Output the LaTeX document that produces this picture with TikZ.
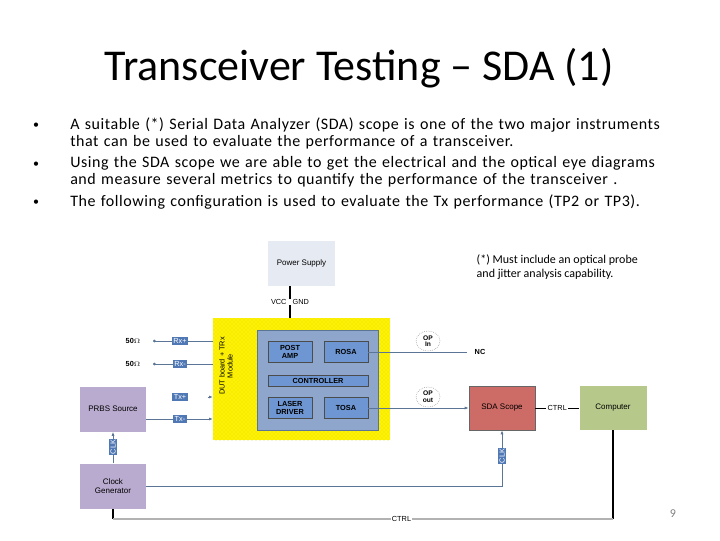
\documentclass[tikz,border=0pt]{standalone}
\usepackage{fontspec}
\setmainfont{Carlito}
\setsansfont{Liberation Sans}
\usetikzlibrary{patterns,arrows.meta,shapes.geometric}
\definecolor{psbox}{HTML}{E6EAF2}
\definecolor{inner}{HTML}{8EA6CC}
\definecolor{blk}{HTML}{6D96D2}
\definecolor{lav}{HTML}{B9ABCF}
\definecolor{scope}{HTML}{CD6B66}
\definecolor{comp}{HTML}{B6C98B}
\definecolor{wire}{HTML}{5A7595}
\definecolor{lbl}{HTML}{4F78B4}
\begin{document}
\begin{tikzpicture}[x=0.75pt,y=-0.75pt,
  box/.style={draw=none,minimum width=66*0.75pt,minimum height=45*0.75pt,font=\sffamily\fontsize{6}{7}\selectfont,align=center},
  blkbox/.style={fill=blk,draw=black!70,minimum width=44*0.75pt,minimum height=21*0.75pt,font=\sffamily\bfseries\fontsize{5.5}{6}\selectfont,align=center,inner sep=0pt},
  tag/.style={fill=lbl,text=white,font=\sffamily\fontsize{5.5}{6}\selectfont,inner sep=1pt},
  wl/.style={draw=wire,line width=0.6pt},
  sm/.style={font=\sffamily\fontsize{5.5}{6}\selectfont},
  bul/.style={anchor=north west,text width=612*0.75pt,align=left,inner sep=0pt,font=\fontsize{12}{12.6}\selectfont\addfontfeature{LetterSpace=3.5}},
  opnode/.style={draw=gray,densely dotted,ellipse,minimum width=24*0.75pt,minimum height=20*0.75pt,fill=white,align=center,inner sep=0pt,font=\sffamily\bfseries\fontsize{5}{5}\selectfont}]
\useasboundingbox (0,0) rectangle (720,540);
\node (title) at (359,68) {\fontsize{33}{36}\selectfont Transceiver Testing – SDA (1)};
\node[bul] (t1) at (70,118) {A suitable (*) Serial Data Analyzer (SDA) scope is one of the two major instruments that can be used to evaluate the performance of a transceiver.};
\node[bul] (t2) at (70,156) {Using the SDA scope we are able to get the electrical and the optical eye diagrams and measure several metrics to quantify the performance of the transceiver .};
\node[bul] (t3) at (70,195) {The following configuration is used to evaluate the Tx performance (TP2 or TP3).};
\foreach \yy/\nm in {126/b1,165/b2,203/b3} \node[font=\fontsize{9}{9}\selectfont] (\nm) at (36,\yy) {•};
\node[anchor=west,align=left,font=\fontsize{9}{11}\selectfont] (note) at (472,267) {(*) Must include an optical probe\\and jitter analysis capability.};
\node[text=gray,font=\fontsize{9}{9}\selectfont] (pg) at (673,514) {9};
% power
\node[box,fill=psbox,minimum width=67*0.75pt] (ps) at (301.5,263.5) {Power Supply};
% DUT
\fill[yellow] (213,318) rectangle (390,440);
\fill[pattern=crosshatch dots,pattern color=yellow!70!gray] (213,318) rectangle (390,440);
\coordinate (dutt) at (290,318);
\draw[black,line width=0.8pt] (ps.south -| dutt) -- (dutt);
\node[sm,fill=white,inner sep=0.5pt] (vcc) at (290,302) {VCC \ \ GND};
\node[rotate=90,sm,align=center] (dutl) at (226,366) {DUT board + TRx\\Module};
\node[fill=inner,draw=wire,minimum width=121*0.75pt,minimum height=100*0.75pt] (in) at (317.5,380) {};
\node[blkbox] (pa) at (290,352) {POST\\AMP};
\node[blkbox] (rosa) at (346,352) {ROSA};
\node[blkbox,minimum width=100*0.75pt,minimum height=11*0.75pt] (ctl) at (318,380.5) {CONTROLLER};
\node[blkbox] (ld) at (290,408) {LASER\\DRIVER};
\node[blkbox] (tosa) at (346,408) {TOSA};
% left signals
\node[sm,font=\sffamily\bfseries\fontsize{5.5}{6}\selectfont] (r1) at (133,341) {50$\Omega$};
\node[sm,font=\sffamily\bfseries\fontsize{5.5}{6}\selectfont] (r2) at (133,364) {50$\Omega$};
\coordinate (d1) at (213,341); \coordinate (d2) at (213,364);
\coordinate (d3) at (213,397); \coordinate (d4) at (213,419);
\draw[wl,{Circle[length=2pt]}-] ([xshift=6]r1.east) -- (d1);
\draw[wl,{Circle[length=2pt]}-] ([xshift=6]r2.east) -- (d2);
\node[box,fill=lav] (prbs) at (113,409) {PRBS Source};
\node[box,fill=lav] (clk) at (113,486) {Clock\\Generator};
\draw[wl,-{Latex[length=3pt]}] (prbs.east |- d4) -- (d4);
\draw[wl,-{Latex[length=3pt]}] ([xshift=-4]d3) -- (d3);
\node[tag] (rp) at (180,341) {Rx+};
\node[tag] (rm) at (180,364) {Rx-};
\node[tag] (tp) at (180,397) {Tx+};
\node[tag] (tm) at (180,419) {Tx-};
\draw[wl,-{Latex[length=3pt]}] (clk.north) -- (prbs.south);
\node[tag,rotate=90] (ck1) at (113,447) {CLK};
% right
\node[box,fill=scope,draw=black!60,minimum width=66*0.75pt,minimum height=44*0.75pt] (sda) at (502,408) {SDA Scope};
\node[box,fill=comp,minimum width=67*0.75pt,minimum height=44*0.75pt] (pc) at (613,408) {Computer};
\draw[wl] (rosa.east) -- (467,352);
\node[sm,font=\sffamily\bfseries\fontsize{5.5}{6}\selectfont] (nc) at (480,352) {NC};
\draw[wl,-{Latex[length=3pt]}] (tosa.east) -- (sda.west);
\node[opnode] (opin) at (428,341) {OP\\In};
\node[opnode] (opout) at (428,397) {OP\\out};
\draw[black,line width=0.6pt] (sda.east) -- (pc.west) node[midway,fill=white,sm,inner sep=1pt] (ctrl1) {CTRL};
\coordinate (cr) at (502,486);
\draw[wl,-{Latex[length=3pt]}] (clk.east |- cr) -- (cr) -- (sda.south);
\node[tag,rotate=90] (ck2) at (502,456) {CLK};
\coordinate (b1c) at (113,519); \coordinate (b2c) at (613,519);
\draw[black,line width=0.8pt] (clk.south) -- (b1c);
\draw[black,line width=0.8pt] (pc.south) -- (b2c);
\draw[gray!60,line width=0.8pt] (b1c) -- (b2c) node[pos=0.577,fill=white,sm,text=black,inner sep=1pt] (ctrl2) {CTRL};
\end{tikzpicture}
\end{document}
